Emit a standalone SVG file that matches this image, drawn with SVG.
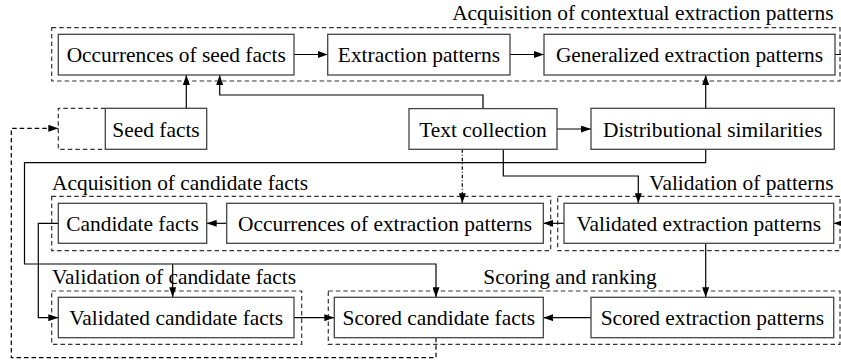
<svg xmlns="http://www.w3.org/2000/svg" width="841" height="361" viewBox="0 0 841 361">
<style>
  text{font-family:"Liberation Serif","Times New Roman",serif;font-size:21.4px;fill:#000}
  .box{fill:#fff;stroke:#444;stroke-width:1.3}
  .cl{fill:none;stroke:#333;stroke-width:1.2;stroke-dasharray:4.5,3}
  .e{fill:none;stroke:#000;stroke-width:1.2}
  .ed{fill:none;stroke:#000;stroke-width:1.2;stroke-dasharray:4.5,3}
  .edd{fill:none;stroke:#000;stroke-width:1.2;stroke-dasharray:3.5,2,1,2}
  .c{text-anchor:middle}
  .r{text-anchor:end}
</style>
<defs>
  <marker id="ah" markerUnits="userSpaceOnUse" markerWidth="10" markerHeight="7" refX="10" refY="3.5" orient="auto">
    <path d="M0,0 L10,3.5 L0,7 z" fill="#000"/>
  </marker>
</defs>
<rect width="841" height="361" fill="#fff"/>

<g id="clusters">
  <g id="cluster-acq-patterns">
    <rect class="cl" x="51.7" y="27.7" width="788.3" height="53.3"/>
    <text class="r" x="833.5" y="20">Acquisition of contextual extraction patterns</text>
  </g>
  <g id="cluster-acq-cand">
    <rect class="cl" x="51.7" y="196.3" width="499" height="54.4"/>
    <text x="52" y="189.5">Acquisition of candidate facts</text>
  </g>
  <g id="cluster-val-patterns">
    <rect class="cl" x="557.7" y="196.3" width="282.3" height="54.4"/>
    <text class="r" x="833.5" y="189.5">Validation of patterns</text>
  </g>
  <g id="cluster-val-cand">
    <rect class="cl" x="51.7" y="291" width="250" height="53.3"/>
    <text x="52" y="284">Validation of candidate facts</text>
  </g>
  <g id="cluster-scoring">
    <rect class="cl" x="328.3" y="291" width="511.7" height="53.3"/>
    <text x="483.3" y="284">Scoring and ranking</text>
  </g>
  <g id="cluster-seed">
    <path class="cl" d="M105.3,108.3 H58.3 V149.3 H105.3"/>
  </g>
</g>

<g id="connectors">
  <path class="e" d="M294,54.5 H327.7" marker-end="url(#ah)"/>
  <path class="e" d="M510,54.5 H544" marker-end="url(#ah)"/>
  <path class="e" d="M186.3,108.3 V75" marker-end="url(#ah)"/>
  <path class="e" d="M483,108.3 V95 H219.7 V75" marker-end="url(#ah)"/>
  <path class="e" d="M557,129 H591" marker-end="url(#ah)"/>
  <path class="e" d="M705.7,108.3 V75" marker-end="url(#ah)"/>
  <path class="e" d="M705.7,149.3 V162.7 H24.5 V264 H436 V297.3" marker-end="url(#ah)"/>
  <path class="e" d="M172.7,264 V297.3" marker-end="url(#ah)"/>
  <path class="edd" d="M462.3,149.3 V203.3" marker-end="url(#ah)"/>
  <path class="e" d="M503.3,149.3 V176 H638.3 V203.3" marker-end="url(#ah)"/>
  <path class="e" d="M226.7,223.3 H206.7" marker-end="url(#ah)"/>
  <path class="e" d="M564,223.3 H543.3" marker-end="url(#ah)"/>
  <path class="e" d="M835,54.5 H860 V223.3 H833.7" marker-end="url(#ah)"/>
  <path class="e" d="M705.7,243.3 V297.3" marker-end="url(#ah)"/>
  <path class="e" d="M58.3,223.3 H38.3 V317.7 H58.3" marker-end="url(#ah)"/>
  <path class="e" d="M294,317.7 H334.3" marker-end="url(#ah)"/>
  <path class="e" d="M591,317.7 H543.3" marker-end="url(#ah)"/>
  <path class="ed" d="M436,337.7 V357.7 H11.3 V128.3 H58.3" marker-end="url(#ah)"/>
</g>

<g id="n-occ-seed"><rect class="box" x="58.3" y="34.3" width="235.7" height="40.7"/><text class="c" x="176.2" y="62.3">Occurrences of seed facts</text></g>
<g id="n-extr"><rect class="box" x="327.7" y="34.3" width="182.3" height="40.7"/><text class="c" x="418.9" y="62.3">Extraction patterns</text></g>
<g id="n-gen"><rect class="box" x="544" y="34.3" width="291" height="40.7"/><text class="c" x="689.5" y="62.3">Generalized extraction patterns</text></g>
<g id="n-seed"><rect class="box" x="105.3" y="108.3" width="101.4" height="41"/><text class="c" x="156" y="136.5">Seed facts</text></g>
<g id="n-text"><rect class="box" x="409" y="108.6" width="148" height="40.7"/><text class="c" x="483" y="136.6">Text collection</text></g>
<g id="n-dist"><rect class="box" x="591" y="108.3" width="243.3" height="41"/><text class="c" x="712.7" y="136.5">Distributional similarities</text></g>
<g id="n-cand"><rect class="box" x="58.3" y="203.3" width="148.4" height="40"/><text class="c" x="132.5" y="231">Candidate facts</text></g>
<g id="n-occ-extr"><rect class="box" x="226.7" y="203.3" width="316.6" height="40"/><text class="c" x="385" y="231">Occurrences of extraction patterns</text></g>
<g id="n-val-extr"><rect class="box" x="564" y="203.3" width="269.7" height="40"/><text class="c" x="698.8" y="231">Validated extraction patterns</text></g>
<g id="n-val-cand"><rect class="box" x="58.3" y="297.3" width="235.7" height="40.4"/><text class="c" x="176.2" y="325.3">Validated candidate facts</text></g>
<g id="n-scored-cand"><rect class="box" x="334.3" y="297.3" width="209" height="40.4"/><text class="c" x="438.8" y="325.3">Scored candidate facts</text></g>
<g id="n-scored-extr"><rect class="box" x="591" y="297.3" width="242.7" height="40.4"/><text class="c" x="712.3" y="325.3">Scored extraction patterns</text></g>
</svg>
